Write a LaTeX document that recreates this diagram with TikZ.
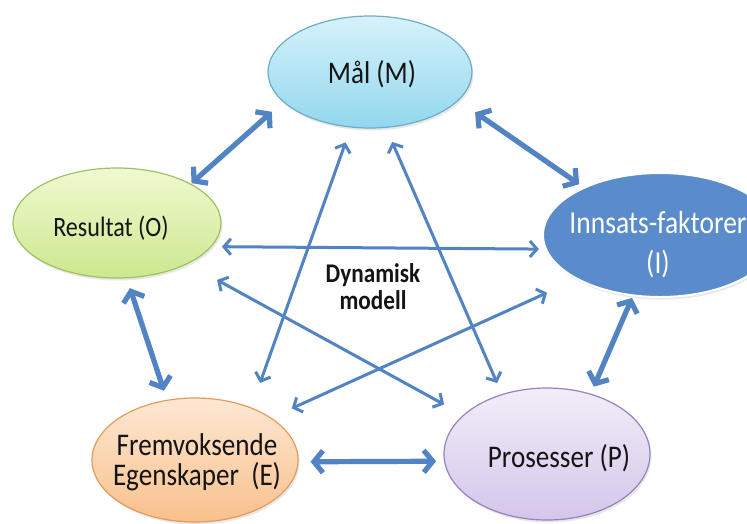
\documentclass[tikz,border=0pt]{standalone}
\usepackage{fontspec}
\setmainfont{Carlito}[FakeStretch=0.86]
\usetikzlibrary{arrows.meta,shapes.geometric,shadows}
\definecolor{arrowblue}{RGB}{82,132,195}
\definecolor{mtop}{RGB}{214,242,251}
\definecolor{mbot}{RGB}{146,215,238}
\definecolor{mline}{RGB}{110,172,200}
\definecolor{otop}{RGB}{240,249,208}
\definecolor{obot}{RGB}{204,232,143}
\definecolor{oline}{RGB}{160,192,100}
\definecolor{ifill}{RGB}{90,140,203}
\definecolor{etop}{RGB}{253,232,212}
\definecolor{ebot}{RGB}{249,192,140}
\definecolor{eline}{RGB}{228,155,90}
\definecolor{ptop}{RGB}{242,237,249}
\definecolor{pbot}{RGB}{212,198,234}
\definecolor{pline}{RGB}{150,130,190}
\definecolor{txtdark}{RGB}{20,20,20}
\begin{document}
\begin{tikzpicture}[x=1pt,y=-1pt,
  bubble/.style={ellipse, inner sep=0pt, line width=1.2pt,
    drop shadow={opacity=0.18, shadow xshift=1.5pt, shadow yshift=-2.5pt}},
  txt/.style={text=txtdark, align=center, inner sep=0pt},
  bigarrow/.style={draw=arrowblue, line width=5.2pt,
    {Straight Barb[length=9pt,width=22pt]}-{Straight Barb[length=9pt,width=22pt]}},
  slimarrow/.style={draw=arrowblue, line width=3pt,
    {Straight Barb[length=7pt,width=16pt]}-{Straight Barb[length=7pt,width=16pt]}}
]
\useasboundingbox (0,0) rectangle (747,523);
\clip (0,0) rectangle (747,523);
\fill[white] (0,0) rectangle (747,523);

% ellipses
\node[bubble, minimum width=204pt, minimum height=112pt, top color=mtop, bottom color=mbot, draw=mline] (M) at (370,72) {};
\node[bubble, minimum width=208pt, minimum height=110pt, top color=otop, bottom color=obot, draw=oline] (O) at (117,223) {};
\node[bubble, minimum width=234pt, minimum height=124pt, fill=ifill, draw=white, line width=2pt] (I) at (660,235) {};
\node[bubble, minimum width=206pt, minimum height=124pt, top color=etop, bottom color=ebot, draw=eline] (E) at (195,460) {};
\node[bubble, minimum width=206pt, minimum height=132pt, top color=ptop, bottom color=pbot, draw=pline] (P) at (547,454) {};

% texts
\node[txt, font=\fontsize{31.5}{36}\selectfont] (Mt) at (372,74) {Mål (M)};
\node[txt, font=\fontsize{28}{32}\selectfont] (Ot) at (111,228) {Resultat (O)};
\node[txt, text=white, font=\fontsize{32}{40}\selectfont] (It) at (658,245) {Innsats-faktorer\\(I)};
\node[txt, font=\fontsize{31.5}{30}\selectfont] (Et) at (197,462) {Fremvoksende\\Egenskaper\ \ (E)};
\node[txt, font=\fontsize{31.5}{36}\selectfont] (Pt) at (559,458) {Prosesser (P)};
\node[txt, font=\bfseries\fontsize{27}{27}\selectfont] (D) at (373,287) {Dynamisk\\modell};

% outer thick arrows
\draw[bigarrow, shorten <=14.8pt, shorten >=0.8pt] (M.199.3) -- (O.28.7);
\draw[bigarrow, shorten <=20.3pt, shorten >=5.1pt] (M.-18.1) -- (I.148.0);
\draw[bigarrow, shorten <=10.3pt, shorten >=9.5pt] (O.-80.4) -- (E.115.9);
\draw[bigarrow, shorten <=1.8pt, shorten >=7.6pt] (I.-114.3) -- (P.54.0);
\draw[bigarrow, shorten <=12pt, shorten >=7.9pt] (E.-1.5) -- (P.184.7);

% inner slim arrows
\draw[slimarrow, shorten <=10.2pt, shorten >=6.1pt] (O.-14.7) -- (I.187.1);
\draw[slimarrow, shorten <=33.3pt, shorten >=21.7pt] (O.-30.6) -- (P.155.7);
\draw[slimarrow, shorten <=22.4pt, shorten >=32.1pt] (E.29.2) -- (I.208.0);
\draw[slimarrow, shorten <=15.7pt, shorten >=26.1pt] (M.251.8) -- (E.43.0);
\draw[slimarrow, shorten <=15.3pt, shorten >=12.0pt] (M.-74.1) -- (P.127.0);
\end{tikzpicture}
\end{document}
